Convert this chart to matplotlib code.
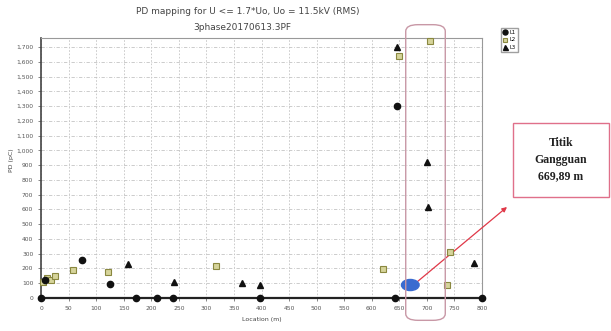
import matplotlib
matplotlib.use('Agg')
import matplotlib.pyplot as plt
from matplotlib.patches import Ellipse, FancyBboxPatch
from matplotlib.ticker import FuncFormatter

# data: location (m), PD (pC)
l1_x = [0, 8, 75, 125, 172, 211, 240, 397, 643, 646, 800]
l1_y = [0, 120, 255, 95, 0, 0, 0, 0, 0, 1300, 0]

l2_x = [3, 10, 18, 25, 58, 122, 318, 620, 650, 705, 737, 742]
l2_y = [110, 135, 125, 150, 190, 177, 215, 195, 1640, 1740, 85, 310]

l3_x = [158, 241, 365, 397, 646, 700, 702, 786]
l3_y = [230, 108, 100, 90, 1700, 925, 615, 240]

fault_x = 669.89
fault_y = 88

W, H = 611, 331
fig = plt.figure(figsize=(W / 100, H / 100), dpi=100)
ax = fig.add_axes([41 / W, 1 - 298 / H, (482 - 41) / W, (298 - 38) / H])
ax.set_xlim(0, 800)
ax.set_ylim(0, 1762)

# grid
ax.set_xticks(range(0, 801, 50))
ax.set_yticks(range(0, 1701, 100))
ax.grid(axis='x', color='#c4c4c4', lw=0.6, ls=(0, (2, 2)))
ax.grid(axis='y', color='#c4c4c4', lw=0.6, ls=(0, (4, 2, 1, 2)))
ax.yaxis.set_major_formatter(FuncFormatter(lambda v, p: f'{int(v):,}'))
ax.tick_params(labelsize=4.3, colors='#555555', length=2, width=0.5)

for s in ['top', 'right']:
    ax.spines[s].set_color('#999999')
    ax.spines[s].set_linewidth(0.8)
ax.spines['left'].set_linewidth(1.2)
ax.spines['left'].set_color('#444444')
ax.spines['bottom'].set_linewidth(1.6)
ax.spines['bottom'].set_color('#222222')

ax.plot(l1_x, l1_y, 'o', ms=4.5, color='#111111', clip_on=False, zorder=5, label='L1')
ax.plot(l2_x, l2_y, 's', ms=4, mfc='#d6d49a', mec='#8a8840', mew=0.8, clip_on=False, zorder=4, label='L2')
ax.plot(l3_x, l3_y, '^', ms=4.5, color='#111111', clip_on=False, zorder=5, label='L3')

# fault point
ax.add_patch(Ellipse((fault_x, fault_y), 32, 75, color='#3a6bd0', zorder=6))

ax.set_xlabel('Location (m)', fontsize=4.5, color='#444444')
ax.xaxis.set_label_coords(0.5, -0.075)
fig.text(12 / W, 1 - 160 / H, 'PD (pC)', rotation=90, fontsize=4.5, color='#444444',
         ha='center', va='center')

fig.text(248 / W, 1 - 11 / H, 'PD mapping for U <= 1.7*Uo, Uo = 11.5kV (RMS)',
         fontsize=6.5, color='#444444', ha='center', va='center')
fig.text(242 / W, 1 - 27 / H, '3phase20170613.3PF',
         fontsize=6.5, color='#444444', ha='center', va='center')

fig.legend(loc='upper left', bbox_to_anchor=(498 / W, 1 - 25 / H), fontsize=3.8,
           handlelength=0.9, handletextpad=0.4, borderpad=0.4, labelspacing=0.5,
           markerscale=0.8, frameon=True, fancybox=False, edgecolor='#888888')

# highlight band around the fault zone
fig.patches.append(FancyBboxPatch((410 / W, 1 - 318 / H), 31 / W, 291 / H,
                                  boxstyle='round,pad=0.007,rounding_size=0.02',
                                  transform=fig.transFigure, fill=False,
                                  ec='#c898a6', lw=1.0, zorder=10))

# callout box
fig.patches.append(FancyBboxPatch((513 / W, 1 - 197 / H), 96 / W, 74 / H,
                                  boxstyle='square,pad=0', transform=fig.transFigure,
                                  fill=False, ec='#e0708a', lw=1.0))
fig.text(561 / W, 1 - 160 / H, 'Titik\nGangguan\n669,89 m', fontsize=8.5,
         fontweight='bold', family='Liberation Serif', ha='center', va='center',
         linespacing=1.5, color='#222222')

ax.annotate('', xy=(507 / W, 1 - 207 / H), xycoords='figure fraction',
            xytext=(fault_x + 12, fault_y + 20), textcoords='data',
            arrowprops=dict(arrowstyle='-|>', color='#e03848', lw=0.9,
                            mutation_scale=7, shrinkA=0, shrinkB=0),
            annotation_clip=False)

fig.savefig('out.png', dpi=100, facecolor='white')
